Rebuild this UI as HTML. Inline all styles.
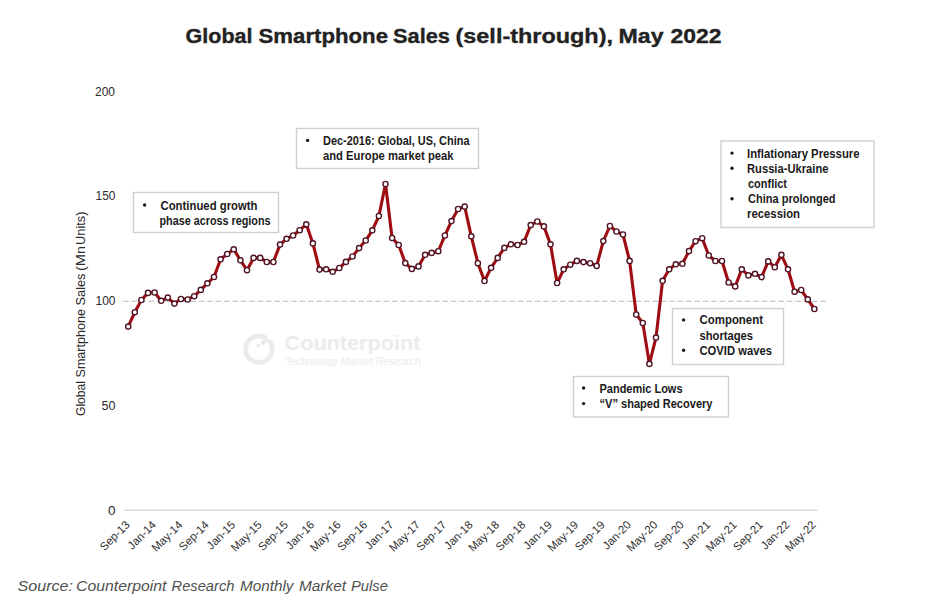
<!DOCTYPE html>
<html><head><meta charset="utf-8"><style>
html,body{margin:0;padding:0;background:#fff;width:946px;height:605px;overflow:hidden}
svg{display:block}
text{font-family:"Liberation Sans",sans-serif}
.ax{font-size:11px;fill:#2a2a2a}
.an{font-size:12.5px;font-weight:bold;fill:#1a1a1a}
.ti{font-size:21px;font-weight:bold;fill:#222;stroke:#222;stroke-width:0.35px}
.src{font-size:14px;font-style:italic;fill:#505050}
</style></head><body>
<svg width="946" height="605" viewBox="0 0 946 605">
<g class="ti">
<text x="185.50" y="42.8" textLength="67.00" lengthAdjust="spacingAndGlyphs">Global</text>
<text x="258.50" y="42.8" textLength="129.50" lengthAdjust="spacingAndGlyphs">Smartphone</text>
<text x="393.00" y="42.8" textLength="57.00" lengthAdjust="spacingAndGlyphs">Sales</text>
<text x="455.50" y="42.8" textLength="157.50" lengthAdjust="spacingAndGlyphs">(sell-through),</text>
<text x="618.50" y="42.8" textLength="45.00" lengthAdjust="spacingAndGlyphs">May</text>
<text x="670.50" y="42.8" textLength="51.00" lengthAdjust="spacingAndGlyphs">2022</text>
</g>
<g class="ax" style="font-size:12px">
<text x="95.00" y="96.4" textLength="20.00" lengthAdjust="spacingAndGlyphs">200</text>
<text x="95.50" y="200.2" textLength="20.00" lengthAdjust="spacingAndGlyphs">150</text>
<text x="95.50" y="304.6" textLength="20.00" lengthAdjust="spacingAndGlyphs">100</text>
<text x="101.50" y="409.6" textLength="14.00" lengthAdjust="spacingAndGlyphs">50</text>
<text x="108.00" y="514.5" textLength="7.50" lengthAdjust="spacingAndGlyphs">0</text>
<text transform="translate(84.8,416.00) rotate(-90)" textLength="35.00" lengthAdjust="spacingAndGlyphs">Global</text>
<text transform="translate(84.8,377.50) rotate(-90)" textLength="68.50" lengthAdjust="spacingAndGlyphs">Smartphone</text>
<text transform="translate(84.8,305.50) rotate(-90)" textLength="32.00" lengthAdjust="spacingAndGlyphs">Sales</text>
<text transform="translate(84.8,271.00) rotate(-90)" textLength="25.00" lengthAdjust="spacingAndGlyphs">(Mn</text>
<text transform="translate(84.8,245.00) rotate(-90)" textLength="33.50" lengthAdjust="spacingAndGlyphs">Units)</text>
</g>
<line x1="124" y1="510.3" x2="817.5" y2="510.3" stroke="#d9d9d9" stroke-width="1.5"/>
<line x1="123.2" y1="301.4" x2="826.5" y2="301.4" stroke="#c8c8c8" stroke-width="1.4" stroke-dasharray="5.6,2.8"/>
<g class="ax" style="font-size:11.4px;fill:#2e2e2e">
<text transform="translate(130.4,525.5) rotate(-45)" text-anchor="end">Sep-13</text>
<text transform="translate(156.8,525.5) rotate(-45)" text-anchor="end">Jan-14</text>
<text transform="translate(183.2,525.5) rotate(-45)" text-anchor="end">May-14</text>
<text transform="translate(209.6,525.5) rotate(-45)" text-anchor="end">Sep-14</text>
<text transform="translate(236.0,525.5) rotate(-45)" text-anchor="end">Jan-15</text>
<text transform="translate(262.4,525.5) rotate(-45)" text-anchor="end">May-15</text>
<text transform="translate(288.8,525.5) rotate(-45)" text-anchor="end">Sep-15</text>
<text transform="translate(315.1,525.5) rotate(-45)" text-anchor="end">Jan-16</text>
<text transform="translate(341.5,525.5) rotate(-45)" text-anchor="end">May-16</text>
<text transform="translate(367.9,525.5) rotate(-45)" text-anchor="end">Sep-16</text>
<text transform="translate(394.3,525.5) rotate(-45)" text-anchor="end">Jan-17</text>
<text transform="translate(420.7,525.5) rotate(-45)" text-anchor="end">May-17</text>
<text transform="translate(447.1,525.5) rotate(-45)" text-anchor="end">Sep-17</text>
<text transform="translate(473.5,525.5) rotate(-45)" text-anchor="end">Jan-18</text>
<text transform="translate(499.9,525.5) rotate(-45)" text-anchor="end">May-18</text>
<text transform="translate(526.3,525.5) rotate(-45)" text-anchor="end">Sep-18</text>
<text transform="translate(552.7,525.5) rotate(-45)" text-anchor="end">Jan-19</text>
<text transform="translate(579.1,525.5) rotate(-45)" text-anchor="end">May-19</text>
<text transform="translate(605.5,525.5) rotate(-45)" text-anchor="end">Sep-19</text>
<text transform="translate(631.8,525.5) rotate(-45)" text-anchor="end">Jan-20</text>
<text transform="translate(658.2,525.5) rotate(-45)" text-anchor="end">May-20</text>
<text transform="translate(684.6,525.5) rotate(-45)" text-anchor="end">Sep-20</text>
<text transform="translate(711.0,525.5) rotate(-45)" text-anchor="end">Jan-21</text>
<text transform="translate(737.4,525.5) rotate(-45)" text-anchor="end">May-21</text>
<text transform="translate(763.8,525.5) rotate(-45)" text-anchor="end">Sep-21</text>
<text transform="translate(790.2,525.5) rotate(-45)" text-anchor="end">Jan-22</text>
<text transform="translate(816.6,525.5) rotate(-45)" text-anchor="end">May-22</text>
</g>
<g fill="#ebebeb">
<path d="M269.84,341.82 A13.2,13.2 0 1 1 265.1,337.55 Q266.5,340.5 263.4,342.6" fill="none" stroke="#ebebeb" stroke-width="4.8" stroke-linecap="round"/>
<circle cx="258.1" cy="345.7" r="2"/>
<text x="284.5" y="350.4" font-weight="bold" font-size="20" textLength="136" lengthAdjust="spacingAndGlyphs">Counterpoint</text>
<text x="285" y="364.5" font-size="10" textLength="135.5" lengthAdjust="spacingAndGlyphs">Technology Market Research</text>
</g>
<path d="M128.2,326.6 L134.8,312.2 L141.4,300.0 L148.0,292.9 L154.6,292.5 L161.2,300.8 L167.8,297.6 L174.4,303.6 L181.0,299.0 L187.6,299.5 L194.2,296.2 L200.8,289.9 L207.4,283.3 L214.0,277.0 L220.6,259.3 L227.2,254.0 L233.8,249.3 L240.4,260.3 L247.0,270.2 L253.6,257.9 L260.2,257.9 L266.8,262.0 L273.4,262.0 L280.0,244.6 L286.6,238.8 L293.1,235.5 L299.7,230.2 L306.3,224.3 L312.9,243.4 L319.5,269.6 L326.1,269.3 L332.7,271.8 L339.3,268.0 L345.9,261.9 L352.5,256.5 L359.1,248.1 L365.7,240.5 L372.3,230.3 L378.9,216.0 L385.5,184.0 L392.1,238.0 L398.7,245.0 L405.3,263.1 L411.9,268.9 L418.5,266.4 L425.1,254.8 L431.7,252.9 L438.3,251.2 L444.9,235.5 L451.5,221.1 L458.1,209.0 L464.7,206.6 L471.3,236.3 L477.9,263.2 L484.5,281.0 L491.1,267.8 L497.7,257.9 L504.3,247.9 L510.9,244.3 L517.5,245.0 L524.1,241.8 L530.7,225.1 L537.3,221.5 L543.9,226.4 L550.5,244.3 L557.1,283.0 L563.7,269.3 L570.3,264.7 L576.9,260.9 L583.5,262.1 L590.1,263.2 L596.7,265.9 L603.3,241.1 L609.9,226.0 L616.5,231.5 L623.0,234.5 L629.6,260.9 L636.2,314.5 L642.8,323.0 L649.4,363.9 L656.0,337.6 L662.6,280.8 L669.2,269.3 L675.8,264.3 L682.4,263.8 L689.0,251.1 L695.6,241.2 L702.2,238.2 L708.8,255.5 L715.4,261.0 L722.0,261.0 L728.6,282.5 L735.2,286.4 L741.8,269.3 L748.4,275.4 L755.0,273.8 L761.6,277.1 L768.2,261.4 L774.8,267.2 L781.4,254.8 L788.0,269.3 L794.6,291.7 L801.2,290.0 L807.8,299.4 L814.4,309.0" fill="none" stroke="#9e0d12" stroke-width="3.1" stroke-linejoin="round"/>
<g fill="#fff" stroke="#501525" stroke-width="1.4">
<circle cx="128.2" cy="326.6" r="2.6"/>
<circle cx="134.8" cy="312.2" r="2.6"/>
<circle cx="141.4" cy="300.0" r="2.6"/>
<circle cx="148.0" cy="292.9" r="2.6"/>
<circle cx="154.6" cy="292.5" r="2.6"/>
<circle cx="161.2" cy="300.8" r="2.6"/>
<circle cx="167.8" cy="297.6" r="2.6"/>
<circle cx="174.4" cy="303.6" r="2.6"/>
<circle cx="181.0" cy="299.0" r="2.6"/>
<circle cx="187.6" cy="299.5" r="2.6"/>
<circle cx="194.2" cy="296.2" r="2.6"/>
<circle cx="200.8" cy="289.9" r="2.6"/>
<circle cx="207.4" cy="283.3" r="2.6"/>
<circle cx="214.0" cy="277.0" r="2.6"/>
<circle cx="220.6" cy="259.3" r="2.6"/>
<circle cx="227.2" cy="254.0" r="2.6"/>
<circle cx="233.8" cy="249.3" r="2.6"/>
<circle cx="240.4" cy="260.3" r="2.6"/>
<circle cx="247.0" cy="270.2" r="2.6"/>
<circle cx="253.6" cy="257.9" r="2.6"/>
<circle cx="260.2" cy="257.9" r="2.6"/>
<circle cx="266.8" cy="262.0" r="2.6"/>
<circle cx="273.4" cy="262.0" r="2.6"/>
<circle cx="280.0" cy="244.6" r="2.6"/>
<circle cx="286.6" cy="238.8" r="2.6"/>
<circle cx="293.1" cy="235.5" r="2.6"/>
<circle cx="299.7" cy="230.2" r="2.6"/>
<circle cx="306.3" cy="224.3" r="2.6"/>
<circle cx="312.9" cy="243.4" r="2.6"/>
<circle cx="319.5" cy="269.6" r="2.6"/>
<circle cx="326.1" cy="269.3" r="2.6"/>
<circle cx="332.7" cy="271.8" r="2.6"/>
<circle cx="339.3" cy="268.0" r="2.6"/>
<circle cx="345.9" cy="261.9" r="2.6"/>
<circle cx="352.5" cy="256.5" r="2.6"/>
<circle cx="359.1" cy="248.1" r="2.6"/>
<circle cx="365.7" cy="240.5" r="2.6"/>
<circle cx="372.3" cy="230.3" r="2.6"/>
<circle cx="378.9" cy="216.0" r="2.6"/>
<circle cx="385.5" cy="184.0" r="2.6"/>
<circle cx="392.1" cy="238.0" r="2.6"/>
<circle cx="398.7" cy="245.0" r="2.6"/>
<circle cx="405.3" cy="263.1" r="2.6"/>
<circle cx="411.9" cy="268.9" r="2.6"/>
<circle cx="418.5" cy="266.4" r="2.6"/>
<circle cx="425.1" cy="254.8" r="2.6"/>
<circle cx="431.7" cy="252.9" r="2.6"/>
<circle cx="438.3" cy="251.2" r="2.6"/>
<circle cx="444.9" cy="235.5" r="2.6"/>
<circle cx="451.5" cy="221.1" r="2.6"/>
<circle cx="458.1" cy="209.0" r="2.6"/>
<circle cx="464.7" cy="206.6" r="2.6"/>
<circle cx="471.3" cy="236.3" r="2.6"/>
<circle cx="477.9" cy="263.2" r="2.6"/>
<circle cx="484.5" cy="281.0" r="2.6"/>
<circle cx="491.1" cy="267.8" r="2.6"/>
<circle cx="497.7" cy="257.9" r="2.6"/>
<circle cx="504.3" cy="247.9" r="2.6"/>
<circle cx="510.9" cy="244.3" r="2.6"/>
<circle cx="517.5" cy="245.0" r="2.6"/>
<circle cx="524.1" cy="241.8" r="2.6"/>
<circle cx="530.7" cy="225.1" r="2.6"/>
<circle cx="537.3" cy="221.5" r="2.6"/>
<circle cx="543.9" cy="226.4" r="2.6"/>
<circle cx="550.5" cy="244.3" r="2.6"/>
<circle cx="557.1" cy="283.0" r="2.6"/>
<circle cx="563.7" cy="269.3" r="2.6"/>
<circle cx="570.3" cy="264.7" r="2.6"/>
<circle cx="576.9" cy="260.9" r="2.6"/>
<circle cx="583.5" cy="262.1" r="2.6"/>
<circle cx="590.1" cy="263.2" r="2.6"/>
<circle cx="596.7" cy="265.9" r="2.6"/>
<circle cx="603.3" cy="241.1" r="2.6"/>
<circle cx="609.9" cy="226.0" r="2.6"/>
<circle cx="616.5" cy="231.5" r="2.6"/>
<circle cx="623.0" cy="234.5" r="2.6"/>
<circle cx="629.6" cy="260.9" r="2.6"/>
<circle cx="636.2" cy="314.5" r="2.6"/>
<circle cx="642.8" cy="323.0" r="2.6"/>
<circle cx="649.4" cy="363.9" r="2.6"/>
<circle cx="656.0" cy="337.6" r="2.6"/>
<circle cx="662.6" cy="280.8" r="2.6"/>
<circle cx="669.2" cy="269.3" r="2.6"/>
<circle cx="675.8" cy="264.3" r="2.6"/>
<circle cx="682.4" cy="263.8" r="2.6"/>
<circle cx="689.0" cy="251.1" r="2.6"/>
<circle cx="695.6" cy="241.2" r="2.6"/>
<circle cx="702.2" cy="238.2" r="2.6"/>
<circle cx="708.8" cy="255.5" r="2.6"/>
<circle cx="715.4" cy="261.0" r="2.6"/>
<circle cx="722.0" cy="261.0" r="2.6"/>
<circle cx="728.6" cy="282.5" r="2.6"/>
<circle cx="735.2" cy="286.4" r="2.6"/>
<circle cx="741.8" cy="269.3" r="2.6"/>
<circle cx="748.4" cy="275.4" r="2.6"/>
<circle cx="755.0" cy="273.8" r="2.6"/>
<circle cx="761.6" cy="277.1" r="2.6"/>
<circle cx="768.2" cy="261.4" r="2.6"/>
<circle cx="774.8" cy="267.2" r="2.6"/>
<circle cx="781.4" cy="254.8" r="2.6"/>
<circle cx="788.0" cy="269.3" r="2.6"/>
<circle cx="794.6" cy="291.7" r="2.6"/>
<circle cx="801.2" cy="290.0" r="2.6"/>
<circle cx="807.8" cy="299.4" r="2.6"/>
<circle cx="814.4" cy="309.0" r="2.6"/>
</g>
<rect x="133.5" y="192.5" width="145.0" height="40.0" fill="#fff" stroke="#d0d0d0" stroke-width="1.4"/>
<rect x="296.5" y="128.5" width="182.0" height="40.0" fill="#fff" stroke="#d0d0d0" stroke-width="1.4"/>
<rect x="721" y="141" width="153" height="86.5" fill="#fff" stroke="#d0d0d0" stroke-width="1.4"/>
<rect x="672.5" y="308.5" width="111.0" height="56.0" fill="#fff" stroke="#d0d0d0" stroke-width="1.4"/>
<rect x="573.5" y="376.5" width="155.0" height="40.5" fill="#fff" stroke="#d0d0d0" stroke-width="1.4"/>
<g class="an">
<text x="160.50" y="209.5" textLength="97.00" lengthAdjust="spacingAndGlyphs">Continued growth</text>
<text x="159.50" y="224.7" textLength="111.00" lengthAdjust="spacingAndGlyphs">phase across regions</text>
<text x="323.00" y="144.9" textLength="146.50" lengthAdjust="spacingAndGlyphs">Dec-2016: Global, US, China</text>
<text x="323.00" y="160.2" textLength="130.50" lengthAdjust="spacingAndGlyphs">and Europe market peak</text>
<text x="747.00" y="157.6" textLength="112.50" lengthAdjust="spacingAndGlyphs">Inflationary Pressure</text>
<text x="747.00" y="172.8" textLength="81.50" lengthAdjust="spacingAndGlyphs">Russia-Ukraine</text>
<text x="748.00" y="187.5" textLength="39.00" lengthAdjust="spacingAndGlyphs">conflict</text>
<text x="748.00" y="203.2" textLength="87.50" lengthAdjust="spacingAndGlyphs">China prolonged</text>
<text x="747.00" y="218.1" textLength="53.00" lengthAdjust="spacingAndGlyphs">recession</text>
<text x="699.50" y="324.4" textLength="63.50" lengthAdjust="spacingAndGlyphs">Component</text>
<text x="699.50" y="339.7" textLength="53.50" lengthAdjust="spacingAndGlyphs">shortages</text>
<text x="699.50" y="354.8" textLength="72.50" lengthAdjust="spacingAndGlyphs">COVID waves</text>
<text x="599.50" y="392.5" textLength="83.00" lengthAdjust="spacingAndGlyphs">Pandemic Lows</text>
<text x="599.50" y="408.1" textLength="113.00" lengthAdjust="spacingAndGlyphs">“V” shaped Recovery</text>
<circle cx="144.6" cy="205.0" r="1.7"/>
<circle cx="307.6" cy="140.4" r="1.7"/>
<circle cx="732.0" cy="153.1" r="1.7"/>
<circle cx="732.0" cy="168.3" r="1.7"/>
<circle cx="732.0" cy="198.7" r="1.7"/>
<circle cx="683.6" cy="319.9" r="1.7"/>
<circle cx="683.6" cy="350.3" r="1.7"/>
<circle cx="583.6" cy="388.0" r="1.7"/>
<circle cx="583.6" cy="403.6" r="1.7"/>
</g>
<g class="src">
<text x="17.50" y="590.7" textLength="55.50" lengthAdjust="spacingAndGlyphs">Source:</text>
<text x="76.00" y="590.7" textLength="90.50" lengthAdjust="spacingAndGlyphs">Counterpoint</text>
<text x="171.50" y="590.7" textLength="63.00" lengthAdjust="spacingAndGlyphs">Research</text>
<text x="240.00" y="590.7" textLength="53.50" lengthAdjust="spacingAndGlyphs">Monthly</text>
<text x="299.00" y="590.7" textLength="47.00" lengthAdjust="spacingAndGlyphs">Market</text>
<text x="351.00" y="590.7" textLength="37.00" lengthAdjust="spacingAndGlyphs">Pulse</text>
</g>
</svg>
</body></html>
